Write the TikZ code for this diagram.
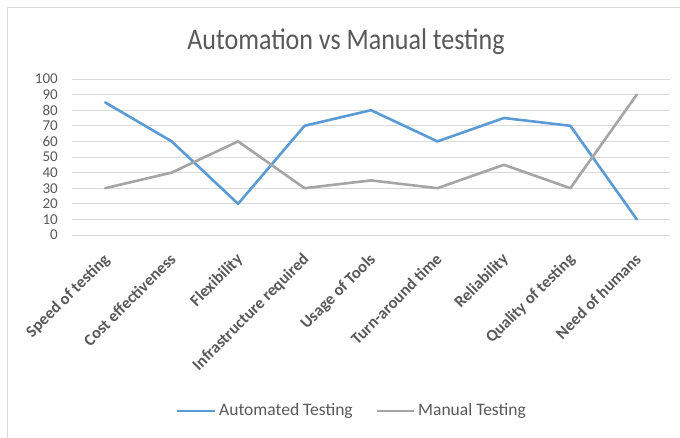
\documentclass[tikz,border=0pt]{standalone}
\usepackage{fontspec}
\setmainfont{Carlito}
\definecolor{autoblue}{HTML}{5B9BD5}
\definecolor{mangray}{HTML}{A5A5A5}
\definecolor{gridgray}{HTML}{D9D9D9}
\definecolor{txtgray}{HTML}{595959}
\tikzset{
  gridline/.style={gridgray, line width=0.8pt},
  frameline/.style={gridgray, line width=0.8pt},
  autoline/.style={autoblue, line width=2.6pt, line join=round, line cap=round},
  manline/.style={mangray, line width=2.6pt, line join=round, line cap=round},
  charttitle/.style={text=txtgray, font=\fontsize{26}{30}\selectfont, inner sep=0pt},
  ticklabel/.style={text=txtgray, font=\fontsize{15}{16}\selectfont, anchor=east, inner sep=0pt},
  catlabel/.style={text=txtgray, font=\bfseries\fontsize{16.5}{18}\selectfont, rotate=45, anchor=north east, inner sep=0pt},
  legendtext/.style={text=txtgray, font=\fontsize{17.5}{19}\selectfont, anchor=west, inner sep=0pt},
}
\begin{document}
\begin{tikzpicture}[x=1pt, y=-1pt]
  \useasboundingbox (0,0) rectangle (680,438);
  \fill[white] (0,0) rectangle (680,438);
  % chart frame (left and top edges)
  \coordinate (fbl) at (7,438);
  \coordinate (ftl) at (7,7);
  \coordinate (ftr) at (680,7);
  \draw[frameline] (fbl) -- (ftl) -- (ftr);

  % title
  \node[charttitle] (title) at (346,42) {\scalebox{1}[1.15]{Automation vs Manual testing}};

  % value axis: gridlines and tick labels
  \foreach \v in {0,...,10} {
    \coordinate (gl\v) at (72, 235-15.6*\v);
    \coordinate (gr\v) at (670, 235-15.6*\v);
    \draw[gridline] (gl\v) -- (gr\v);
    \pgfmathtruncatemacro{\lab}{10*\v}
    \node[ticklabel] (tick\v) at (58, 235-15.6*\v) {\lab};
  }

  % data points and category labels
  \foreach \i/\a/\m/\cat in {
      0/85/30/Speed of testing,
      1/60/40/Cost effectiveness,
      2/20/60/Flexibility,
      3/70/30/Infrastructure required,
      4/80/35/Usage of Tools,
      5/60/30/Turn-around time,
      6/75/45/Reliability,
      7/70/30/Quality of testing,
      8/10/90/Need of humans} {
    \coordinate (A\i) at (105.2+66.45*\i, 235-1.56*\a);
    \coordinate (M\i) at (105.2+66.45*\i, 235-1.56*\m);
    \node[catlabel] (cat\i) at (105.2+66.45*\i-3, 252) {\cat};
  }

  % series lines
  \draw[autoline] (A0) -- (A1) -- (A2) -- (A3) -- (A4) -- (A5) -- (A6) -- (A7) -- (A8);
  \draw[manline] (M0) -- (M1) -- (M2) -- (M3) -- (M4) -- (M5) -- (M6) -- (M7) -- (M8);

  % legend
  \coordinate (la0) at (177,411);
  \coordinate (la1) at (215,411);
  \coordinate (lm0) at (377,411);
  \coordinate (lm1) at (414,411);
  \draw[autoblue, line width=2.6pt] (la0) -- (la1);
  \node[legendtext] (legauto) at (219,411) {Automated Testing};
  \draw[mangray, line width=2.6pt] (lm0) -- (lm1);
  \node[legendtext] (legman) at (418,411) {Manual Testing};
\end{tikzpicture}
\end{document}
